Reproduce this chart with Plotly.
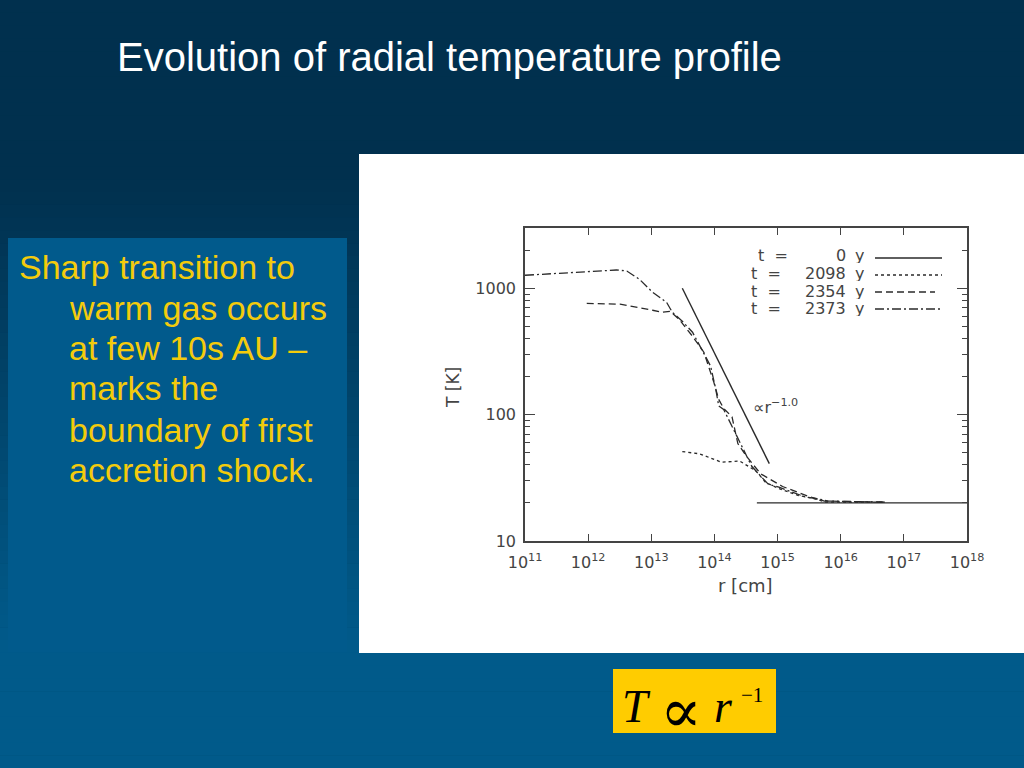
import plotly.graph_objects as go

# ---------------- data ----------------
r_t0 = [4.7e14, 1.0e18]
T_t0 = [20, 20]

r_2098 = [3.1e13, 5.8e13, 1.3e14, 2.5e14, 4.5e14, 6.5e14, 1.05e15, 2.1e15, 4.0e15, 5.8e15, 5.0e16]
T_2098 = [51, 49, 42, 43, 36, 29, 26, 23, 21.5, 20.3, 20.3]

r_2354 = [9.5e11, 3.2e12, 1.05e13, 1.5e13, 2.0e13, 2.75e13, 4.5e13, 6.8e13, 9.8e13, 1.17e14,
          1.4e14, 1.9e14, 2.35e14, 3.2e14, 5.4e14, 1.2e15, 3.0e15, 5.5e15, 5.0e16]
T_2354 = [760, 748, 670, 646, 658, 569, 417, 312, 180, 132,
          112, 96, 59, 47, 34, 27, 22.7, 20.7, 20.3]

r_2373 = [1.0e11, 2.75e11, 9.5e11, 2.8e12, 4.1e12, 6.5e12, 1.05e13, 1.75e13, 2.15e13, 3.1e13,
          4.5e13, 6.3e13, 8.7e13, 1.05e14, 1.17e14, 1.4e14, 1.9e14, 2.45e14, 3.2e14, 3.9e14,
          5.6e14, 7.2e14, 1.05e15, 1.65e15, 2.75e15, 4.5e15, 6.3e15, 5.0e16]
T_2373 = [1268, 1306, 1345, 1396, 1370, 1178, 930, 774, 646, 548,
          449, 330, 242, 159, 117, 110, 81, 61, 47, 39,
          32, 28, 26.7, 24.4, 22.3, 21.5, 20.7, 20.3]

r_ref = [3.1e13, 7.4e14]
T_ref = [1000, 41]

legend_times = ["0", "2098", "2354", "2373"]
x_tickvals = [1e11, 1e12, 1e13, 1e14, 1e15, 1e16, 1e17, 1e18]
x_ticktext = ["10<sup>11</sup>", "10<sup>12</sup>", "10<sup>13</sup>", "10<sup>14</sup>",
              "10<sup>15</sup>", "10<sup>16</sup>", "10<sup>17</sup>", "10<sup>18</sup>"]
y_tickvals = [10, 100, 1000]
y_ticktext = ["10", "100", "1000"]
y_minor = [20, 30, 40, 50, 60, 70, 80, 90, 200, 300, 400, 500, 600, 700, 800, 900, 2000, 3000]

title_text = "Evolution of radial temperature profile"
bullet_lines = ["Sharp transition to", "warm gas occurs", "at few 10s AU \u2013",
                "marks the", "boundary of first", "accretion shock."]

# ---------------- layout helpers ----------------
W, H = 1024, 768


def px(x):
    return x / W


def py(y):
    return 1 - y / H


LINE = "#2a2a2a"
AX = "#444444"
FONT = "DejaVu Sans"

fig = go.Figure()

dashes = ["solid", "dot", "7px,4px", "9px,3px,2px,3px"]
series = [(r_t0, T_t0), (r_2098, T_2098), (r_2354, T_2354), (r_2373, T_2373)]
for (rr, tt), d, lab in zip(series, dashes, legend_times):
    fig.add_trace(go.Scatter(x=rr, y=tt, mode="lines", name="t = %s y" % lab,
                             line=dict(color=LINE, width=1.3, dash=d), showlegend=False))
fig.add_trace(go.Scatter(x=r_ref, y=T_ref, mode="lines", showlegend=False,
                         line=dict(color=LINE, width=1.4)))

shapes = []
# background gradient
top_c = (1, 48, 78)
bot_c = (1, 90, 138)
y0g, y1g = 180, 640
nstrip = 60
strip_h = H / nstrip
for i in range(nstrip):
    ya = i * strip_h
    yc = ya + strip_h / 2
    f = min(max((yc - y0g) / (y1g - y0g), 0), 1)
    c = tuple(int(round(top_c[k] + (bot_c[k] - top_c[k]) * f)) for k in range(3))
    shapes.append(dict(type="rect", xref="paper", yref="paper", x0=0, x1=1,
                       y0=py(ya + strip_h + 0.5), y1=py(ya), line=dict(width=0),
                       fillcolor="rgb(%d,%d,%d)" % c, layer="below"))
# text box
shapes.append(dict(type="rect", xref="paper", yref="paper", x0=px(8), x1=px(347),
                   y0=py(652), y1=py(238), line=dict(width=0), fillcolor="#015a8c", layer="below"))
# white panel
shapes.append(dict(type="rect", xref="paper", yref="paper", x0=px(359), x1=px(1024),
                   y0=py(653), y1=py(154), line=dict(width=0), fillcolor="white", layer="below"))
# formula box
shapes.append(dict(type="rect", xref="paper", yref="paper", x0=px(613), x1=px(776),
                   y0=py(733), y1=py(669), line=dict(width=0), fillcolor="#ffcc00", layer="below"))

# legend samples
leg_y = [258, 275, 292, 309]
leg_txt_y = [256, 274, 291, 308]
leg_x1 = [942, 942, 935, 942]
for yy, d, x1 in zip(leg_y, dashes, leg_x1):
    shapes.append(dict(type="line", xref="paper", yref="paper", x0=px(875), x1=px(x1),
                       y0=py(yy), y1=py(yy), line=dict(color=LINE, width=1.3, dash=d)))

ann = []
lf = dict(family=FONT, size=16, color=AX)
for i, (yy, lab) in enumerate(zip(leg_txt_y, legend_times)):
    ann.append(dict(text="t\u00a0\u00a0=", x=px(756 if i == 0 else 749), y=py(yy), xref="paper", yref="paper",
                    xanchor="left", yanchor="middle", showarrow=False, font=lf, height=15))
    ann.append(dict(text=lab, x=px(848), y=py(yy), xref="paper", yref="paper",
                    xanchor="right", yanchor="middle", showarrow=False, font=lf, height=15))
    ann.append(dict(text="y", x=px(853), y=py(yy), xref="paper", yref="paper",
                    xanchor="left", yanchor="middle", showarrow=False, font=lf, height=15))

# power-law label
ann.append(dict(text="\u221dr<sup>\u22121.0</sup>", x=px(751), y=py(406), xref="paper", yref="paper",
                xanchor="left", yanchor="middle", showarrow=False,
                font=dict(family=FONT, size=16, color=AX)))
# axis titles
ann.append(dict(text="T [K]", x=px(453), y=py(388), xref="paper", yref="paper", textangle=-90,
                xanchor="center", yanchor="middle", showarrow=False,
                font=dict(family=FONT, size=17, color=AX)))
ann.append(dict(text="r [cm]", x=px(745), y=py(585), xref="paper", yref="paper",
                xanchor="center", yanchor="middle", showarrow=False,
                font=dict(family=FONT, size=18, color=AX)))

# slide title
ann.append(dict(text=title_text, x=px(115), y=py(57), xref="paper", yref="paper",
                xanchor="left", yanchor="middle", showarrow=False,
                font=dict(family="Liberation Sans", size=40, color="white")))
# bullet text
bul_y = [267, 308, 348, 388, 430, 470]
for i, (t, yy) in enumerate(zip(bullet_lines, bul_y)):
    ann.append(dict(text=t, x=px(17 if i == 0 else 67), y=py(yy), xref="paper", yref="paper",
                    xanchor="left", yanchor="middle", showarrow=False,
                    font=dict(family="Liberation Sans", size=34, color="#f3cb0c")))
# formula
ff = dict(family="Liberation Serif", size=46, color="black")
ann.append(dict(text="<i>T</i>", x=px(636), y=py(706), xref="paper", yref="paper",
                xanchor="center", yanchor="middle", showarrow=False, font=ff))
ann.append(dict(text="\u221d", x=px(681), y=py(710), xref="paper", yref="paper",
                xanchor="center", yanchor="middle", showarrow=False,
                font=dict(family="DejaVu Serif", size=62, color="black")))
ann.append(dict(text="<i>r</i>", x=px(723), y=py(706), xref="paper", yref="paper",
                xanchor="center", yanchor="middle", showarrow=False, font=ff))
ann.append(dict(text="\u22121", x=px(752), y=py(695), xref="paper", yref="paper",
                xanchor="center", yanchor="middle", showarrow=False,
                font=dict(family="Liberation Serif", size=21, color="black")))

fig.update_layout(
    width=W, height=H, margin=dict(l=0, r=0, t=0, b=0),
    paper_bgcolor="rgb(1,48,78)", plot_bgcolor="white",
    showlegend=False, shapes=shapes, annotations=ann,
    xaxis=dict(type="log", range=[11, 18], domain=[px(525), px(967)], anchor="y",
               showline=True, linecolor=AX, linewidth=1.5, mirror="allticks",
               ticks="inside", ticklen=7, tickwidth=1.2, tickcolor=AX,
               tickmode="array", tickvals=x_tickvals, ticktext=x_ticktext,
               tickfont=dict(family=FONT, size=16, color=AX), ticklabelstandoff=6,
               showgrid=False, zeroline=False, automargin=False),
    yaxis=dict(type="log", range=[1, 3.4771], domain=[py(541), py(228)], anchor="x",
               showline=True, linecolor=AX, linewidth=1.5, mirror="allticks",
               ticks="inside", ticklen=10, tickwidth=1.2, tickcolor=AX,
               tickmode="array", tickvals=y_tickvals, ticktext=y_ticktext,
               minor=dict(tickmode="array", tickvals=y_minor, ticks="inside", ticklen=5,
                          tickwidth=1.1, tickcolor=AX, showgrid=False),
               tickfont=dict(family=FONT, size=16, color=AX), ticklabelstandoff=4,
               showgrid=False, zeroline=False, automargin=False),
)

fig.write_html("out.html", config={"displayModeBar": False},
               post_script="document.body.style.margin='0';")
